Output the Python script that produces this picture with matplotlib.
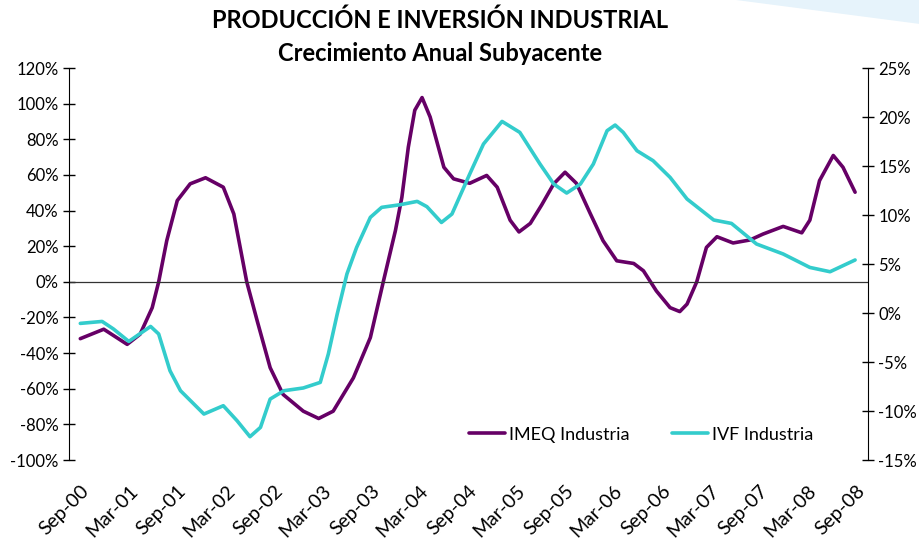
import matplotlib.pyplot as plt
from matplotlib.patches import Polygon
from matplotlib.ticker import FuncFormatter

# meses desde Sep-00 y valores
imeq_mes = [0, 2.9, 5.8, 7.4, 8.9, 9.7, 10.7, 12.0, 13.6, 15.5, 17.7, 19.0, 20.6, 21.9,
            23.5, 25.1, 27.6, 29.5, 31.3, 33.8, 35.9, 37.5, 39.0, 39.8, 40.6, 41.4, 42.3,
            43.3, 45.0, 46.2, 48.2, 50.3, 51.6, 53.2, 54.3, 55.7, 57.1, 58.6, 60.0, 61.4,
            63.1, 64.7, 66.4, 68.5, 69.7, 71.3, 73.0, 74.2, 75.1, 76.3, 77.5, 78.8, 80.8,
            82.9, 84.5, 87.0, 89.3, 90.3, 91.5, 93.2, 94.4, 95.9]
imeq_val = [-31.9, -26.6, -35.1, -29.4, -14.5, 0, 23.1, 45.6, 55.0, 58.4, 53.1, 38.1, 0, -22.0,
            -48.2, -63.2, -72.6, -76.7, -72.6, -53.9, -31.3, 0, 28.7, 47.4, 75.6, 96.3, 103.4,
            92.5, 64.3, 57.8, 55.3, 59.7, 53.1, 34.6, 28.0, 32.8, 43.1, 55.0, 61.5, 55.3,
            38.5, 23.1, 11.8, 10.3, 6.2, -5.1, -14.5, -16.7, -12.5, 0, 19.3, 25.3, 21.8,
            23.5, 26.8, 31.1, 27.5, 34.6, 56.8, 70.9, 64.3, 50.3]

ivf_mes = [0, 2.7, 4.1, 6.0, 8.7, 9.7, 11.1, 12.4, 15.3, 17.7, 19.4, 21.0, 22.3, 23.5, 25.2,
           27.6, 29.7, 30.7, 31.8, 33.0, 34.2, 35.9, 37.3, 39.6, 41.7, 42.9, 44.7, 46.0,
           48.2, 49.9, 52.2, 54.4, 56.9, 58.6, 60.2, 61.9, 63.5, 65.2, 66.2, 67.2, 68.9,
           70.9, 73.0, 75.1, 78.4, 80.6, 83.7, 87.0, 90.3, 92.8, 95.9]
ivf_val = [-1.06, -0.86, -1.63, -2.90, -1.37, -2.14, -5.89, -7.93, -10.31, -9.46, -10.99,
           -12.62, -11.67, -8.78, -7.93, -7.65, -7.08, -4.18, -0.10, 3.98, 6.69, 9.76, 10.78,
           11.05, 11.39, 10.85, 9.24, 10.10, 14.18, 17.24, 19.55, 18.43, 15.20, 13.16, 12.24,
           13.16, 15.20, 18.60, 19.18, 18.43, 16.56, 15.54, 13.84, 11.63, 9.49, 9.14, 7.04,
           6.02, 4.65, 4.21, 5.41]

etiquetas = ['Sep-00', 'Mar-01', 'Sep-01', 'Mar-02', 'Sep-02', 'Mar-03', 'Sep-03', 'Mar-04',
             'Sep-04', 'Mar-05', 'Sep-05', 'Mar-06', 'Sep-06', 'Mar-07', 'Sep-07', 'Mar-08',
             'Sep-08']

plt.rcParams['font.family'] = ['Lato', 'DejaVu Sans']

fig = plt.figure(figsize=(9.2, 5.44), dpi=100)
ax = fig.add_axes([0.075, 0.1544, 0.8685, 0.7206])
ax2 = ax.twinx()

# adorno azul claro arriba a la derecha
fig.patches.append(Polygon([[0.80, 1.0], [1.0, 1.0], [1.0, 0.955]], closed=True,
                           transform=fig.transFigure, facecolor='#e6f3fb', edgecolor='none'))

l1, = ax.plot(imeq_mes, imeq_val, color='#660066', lw=2.6, label='IMEQ Industria',
              solid_capstyle='round', solid_joinstyle='round')
l2, = ax2.plot(ivf_mes, ivf_val, color='#33cccc', lw=2.6, label='IVF Industria',
               solid_capstyle='round', solid_joinstyle='round')
ax.axhline(0, color='#333333', lw=0.9)

ax.set_xlim(-1.4, 97.5)
ax.set_ylim(-100, 120)
ax2.set_ylim(-15, 25)
ax.set_yticks(range(-100, 121, 20))
ax2.set_yticks(range(-15, 26, 5))
ax.yaxis.set_major_formatter(FuncFormatter(lambda v, p: '%d%%' % v))
ax2.yaxis.set_major_formatter(FuncFormatter(lambda v, p: '%d%%' % v))

ax.set_xticks(range(0, 97, 6))
ax.set_xticklabels(etiquetas, rotation=45, ha='right', rotation_mode='anchor', fontsize=14)
ax.tick_params(axis='x', length=0, pad=16)

for a in (ax, ax2):
    a.spines['top'].set_visible(False)
    a.spines['bottom'].set_visible(False)
    a.tick_params(axis='y', direction='inout', length=8, width=1, labelsize=12)
ax.spines['right'].set_visible(False)
ax2.spines['left'].set_visible(False)

ax.legend(handles=[l1, l2], loc='center left', bbox_to_anchor=(0.48, 0.065), ncol=2,
          frameon=False, fontsize=13, handlelength=2.0, handletextpad=0.2,
          columnspacing=2.4)

fig.text(0.478, 0.962, 'PRODUCCIÓN E INVERSIÓN INDUSTRIAL', ha='center', va='center',
         fontsize=17, fontweight='bold')
fig.text(0.478, 0.902, 'Crecimiento Anual Subyacente', ha='center', va='center',
         fontsize=17, fontweight='bold')

fig.savefig('out.png', dpi=100)
